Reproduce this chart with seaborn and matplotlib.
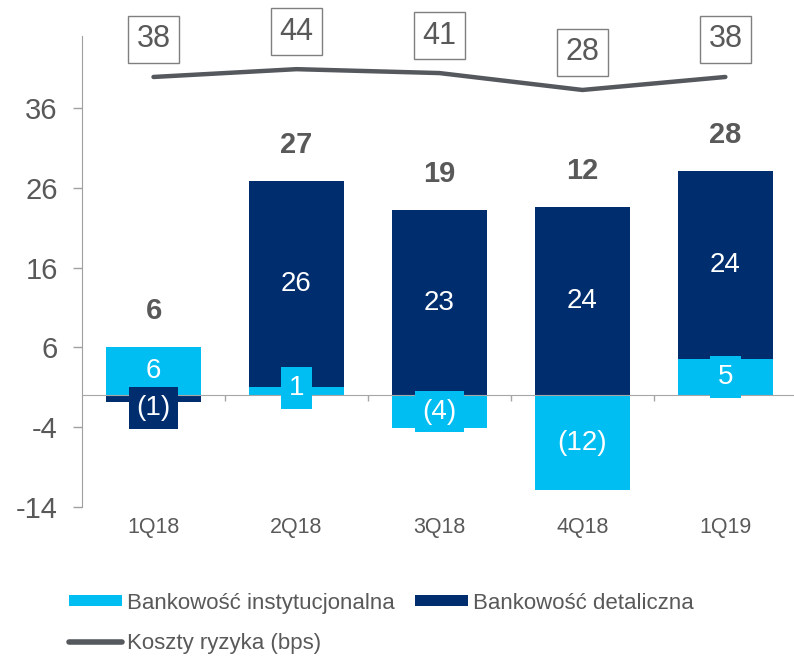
import numpy as np
import seaborn as sns
import matplotlib.pyplot as plt
from matplotlib.patches import Patch
from matplotlib.lines import Line2D

quarters = ["1Q18", "2Q18", "3Q18", "4Q18", "1Q19"]
institutional = [6.1, 1.0, -4.1, -11.9, 4.6]
retail = [-0.9, 25.9, 23.2, 23.6, 23.5]
inst_labels = ["6", "1", "(4)", "(12)", "5"]
retail_labels = ["(1)", "26", "23", "24", "24"]
total_labels = ["6", "27", "19", "12", "28"]
risk_costs = [38, 44, 41, 28, 38]

LIGHT = "#00BEF2"
NAVY = "#002D6E"
GREY = "#595959"
LINE = "#55595E"

sns.set_style("white")
plt.rcParams["font.family"] = ["Liberation Sans", "DejaVu Sans"]
plt.rcParams["axes.unicode_minus"] = False

fig = plt.figure(figsize=(7.94, 6.56), dpi=100)
ax = fig.add_axes([0.1033, 0.2271, 0.8967, 0.7180])

pos = np.zeros(len(quarters))
neg = np.zeros(len(quarters))
segments = []
for vals, col, labs in [(institutional, LIGHT, inst_labels), (retail, NAVY, retail_labels)]:
    v = np.array(vals, dtype=float)
    bottom = np.where(v >= 0, pos, neg)
    sns.barplot(x=quarters, y=v, order=quarters, bottom=bottom, color=col,
                saturation=1, width=0.66, ax=ax, linewidth=0)
    segments.append((v, bottom, col, labs))
    pos = pos + np.clip(v, 0, None)
    neg = neg + np.clip(v, None, 0)

for v, bottom, col, labs in segments:
    for i, (val, b, lab) in enumerate(zip(v, bottom, labs)):
        if abs(val) < 2:
            if val < 0:
                y, va = b, "top"
            else:
                y, va = b + val * 0.9, "center"
        else:
            y, va = b + val / 2, "center"
        ax.text(i, y, lab, ha="center", va=va, color="white", fontsize=20,
                bbox=dict(boxstyle="square,pad=0.28", fc=col, ec="none"))

for i, lab in enumerate(total_labels):
    ax.text(i, pos[i] + 4.5, lab, ha="center", va="center", color=GREY,
            fontsize=21, fontweight="bold")

ax.set_ylim(-14, 45)
ax.set_xlim(-0.5, 4.48)
ax.set_yticks([-14, -4, 6, 16, 26, 36])
ax.tick_params(axis="y", which="major", labelsize=21, labelcolor=GREY,
               length=6.5, width=1, color="#A0A0A0", left=True, pad=11)
ax.set_xlabel("")
ax.set_ylabel("")
for s in ["top", "right"]:
    ax.spines[s].set_visible(False)
ax.spines["left"].set_color("#A0A0A0")
ax.spines["bottom"].set_color("#A6A6A6")
ax.spines["bottom"].set_position(("data", 0))
ax.set_xticks([0.5, 1.5, 2.5, 3.5])
ax.set_xticklabels([])
ax.tick_params(axis="x", bottom=True, length=4, width=1, color="#A6A6A6", direction="out")
for i, q in enumerate(quarters):
    ax.annotate(q, xy=(i, 0), xycoords=("data", "axes fraction"),
                xytext=(0, -15), textcoords="offset points",
                ha="center", va="center", fontsize=15.5, color=GREY)

ax2 = ax.twinx()
x_pos = np.arange(len(quarters))
sns.lineplot(x=x_pos, y=risk_costs, ax=ax2, color=LINE, linewidth=3.2,
             solid_capstyle="round", solid_joinstyle="round")
ax2.set_ylim(-292.8, 69.5)
ax2.set_xlim(-0.5, 4.48)
ax2.axis("off")
for xi, val in zip(x_pos, risk_costs):
    ax2.annotate(str(val), xy=(xi, val), xytext=(0, 27), textcoords="offset points",
                 ha="center", va="center", fontsize=22, color=GREY,
                 bbox=dict(boxstyle="square,pad=0.28", fc="white", ec="#7F7F7F", lw=1))

handles = [Patch(facecolor=LIGHT, edgecolor="none"),
           Line2D([0], [0], color=LINE, lw=4, solid_capstyle="round"),
           Patch(facecolor=NAVY, edgecolor="none")]
labels = ["Bankowość instytucjonalna", "Koszty ryzyka (bps)", "Bankowość detaliczna"]
fig.legend(handles, labels, loc="upper left", bbox_to_anchor=(0.0757, 0.11),
           ncol=2, frameon=False, handlelength=2.4, handleheight=0.4,
           handletextpad=0.22, labelspacing=0.85, columnspacing=0.9,
           fontsize=16, labelcolor=GREY, borderaxespad=0)

fig.savefig("out.png", dpi=100)
